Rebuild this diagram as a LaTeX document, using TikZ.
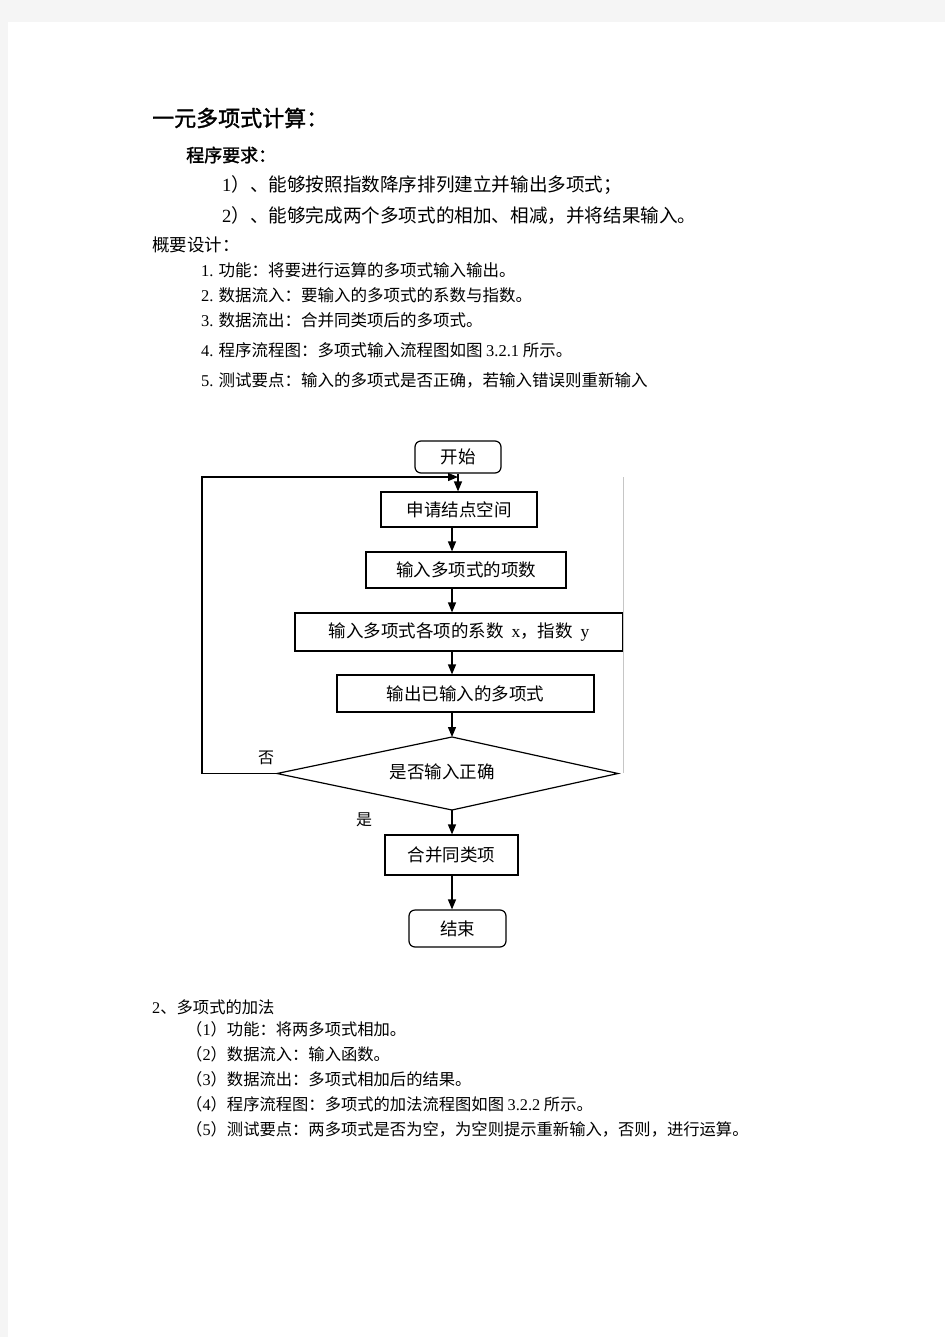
\documentclass[tikz,border=0pt]{standalone}
\usepackage{fontspec}
\setmainfont{Noto Sans CJK SC}
\newfontfamily\cjkb[FakeBold=1.5]{Noto Sans CJK SC}
\newfontfamily\tms{Liberation Serif}
\usetikzlibrary{shapes.geometric,arrows.meta}
\newcommand\myfs[1]{\fontsize{#1}{#1}\selectfont}
\begin{document}
\begin{tikzpicture}[x=1pt,y=-1pt,
  txt/.style={anchor=west,inner sep=0pt},
  box/.style={draw,line width=1.2pt,inner sep=0pt,font=\myfs{17.5}},
  rbox/.style={box,rounded corners=6pt},
  arr/.style={line width=1.3pt,-{Triangle[length=10pt,width=8pt]}},
  lbl/.style={inner sep=0pt,font=\myfs{16}}]
\useasboundingbox (0,0) rectangle (945,1337);
\fill[black!4] (0,0) rectangle (945,1337);
\fill[white] (8,22) rectangle (945,1337);

% header text
\node[txt,font=\cjkb\myfs{22}] (t0) at (152,118) {一元多项式计算：};
\node[txt,font=\cjkb\myfs{18}] (t1) at (186,155) {程序要求：};
\node[txt,font=\myfs{18.6}] (t2) at (222,185) {{\tms 1}）、能够按照指数降序排列建立并输出多项式；};
\node[txt,font=\myfs{18.6}] (t3) at (222,216) {{\tms 2}）、能够完成两个多项式的相加、相减，并将结果输入。};
\node[txt,font=\myfs{17.5}] (t4) at (152,245) {概要设计：};
\node[txt,font=\myfs{16.5}] (l1) at (201,270) {{\tms 1.} 功能：将要进行运算的多项式输入输出。};
\node[txt,font=\myfs{16.5}] (l2) at (201,295) {{\tms 2.} 数据流入：要输入的多项式的系数与指数。};
\node[txt,font=\myfs{16.5}] (l3) at (201,320) {{\tms 3.} 数据流出：合并同类项后的多项式。};
\node[txt,font=\myfs{16.5}] (l4) at (201,350) {{\tms 4.} 程序流程图：多项式输入流程图如图 {\tms 3.2.1} 所示。};
\node[txt,font=\myfs{16.5}] (l5) at (201,380) {{\tms 5.} 测试要点：输入的多项式是否正确，若输入错误则重新输入};

% flowchart
\coordinate (ax) at (452,0);
\coordinate (sx) at (458,0);
\node[rbox,minimum width=86pt,minimum height=32pt] (start) at (458,457) {开始};
\node[box,minimum width=156pt,minimum height=35pt] (n1) at (459,509.5) {申请结点空间};
\node[box,minimum width=200pt,minimum height=36pt] (n2) at (466,570) {输入多项式的项数};
\node[box,minimum width=328pt,minimum height=38pt] (n3) at (459,632) {输入多项式各项的系数\ \ {\tms x}，指数\ \ {\tms y}};
\node[box,minimum width=257pt,minimum height=37pt] (n4) at (465.5,693.5) {输出已输入的多项式};
\coordinate (dN) at (452,737);
\coordinate (dS) at (452,810);
\coordinate (dW) at (277,773.5);
\coordinate (dE) at (618,773.5);
\draw[line width=1.2pt] (dN) -- (dE) -- (dS) -- (dW) -- cycle;
\node[inner sep=0pt,font=\myfs{17.5}] (d) at (442,772) {是否输入正确};
\node[box,minimum width=133pt,minimum height=40pt] (n5) at (451.5,855) {合并同类项};
\node[rbox,minimum width=97pt,minimum height=37pt] (stop) at (457.5,928.5) {结束};
\node[lbl] (no) at (266,758) {否};
\node[lbl] (yes) at (364,820) {是};

\coordinate (fbl) at (202,477);
\coordinate (fbj) at (458,477);
\draw[gray!45,line width=0.6pt] (623,477) -- (623,773);

\draw[arr] (start.south -| sx) -- (n1.north -| sx);
\draw[arr] (n1.south -| ax) -- (n2.north -| ax);
\draw[arr] (n2.south -| ax) -- (n3.north -| ax);
\draw[arr] (n3.south -| ax) -- (n4.north -| ax);
\draw[arr] (n4.south -| ax) -- (dN);
\draw[arr] (dS) -- (n5.north -| ax);
\draw[arr] (n5.south -| ax) -- (stop.north -| ax);
\draw[arr] (dW) -- (dW -| fbl) -- (fbl) -- (fbj);

% bottom text
\node[txt,font=\myfs{16.3}] (b0) at (152,1007) {{\tms 2}、多项式的加法};
\node[txt,font=\myfs{16.3}] (b1) at (186,1029) {（{\tms 1}）功能：将两多项式相加。};
\node[txt,font=\myfs{16.3}] (b2) at (186,1054) {（{\tms 2}）数据流入：输入函数。};
\node[txt,font=\myfs{16.3}] (b3) at (186,1079) {（{\tms 3}）数据流出：多项式相加后的结果。};
\node[txt,font=\myfs{16.3}] (b4) at (186,1104) {（{\tms 4}）程序流程图：多项式的加法流程图如图 {\tms 3.2.2} 所示。};
\node[txt,font=\myfs{16.3}] (b5) at (186,1129) {（{\tms 5}）测试要点：两多项式是否为空，为空则提示重新输入，否则，进行运算。};
\end{tikzpicture}
\end{document}
